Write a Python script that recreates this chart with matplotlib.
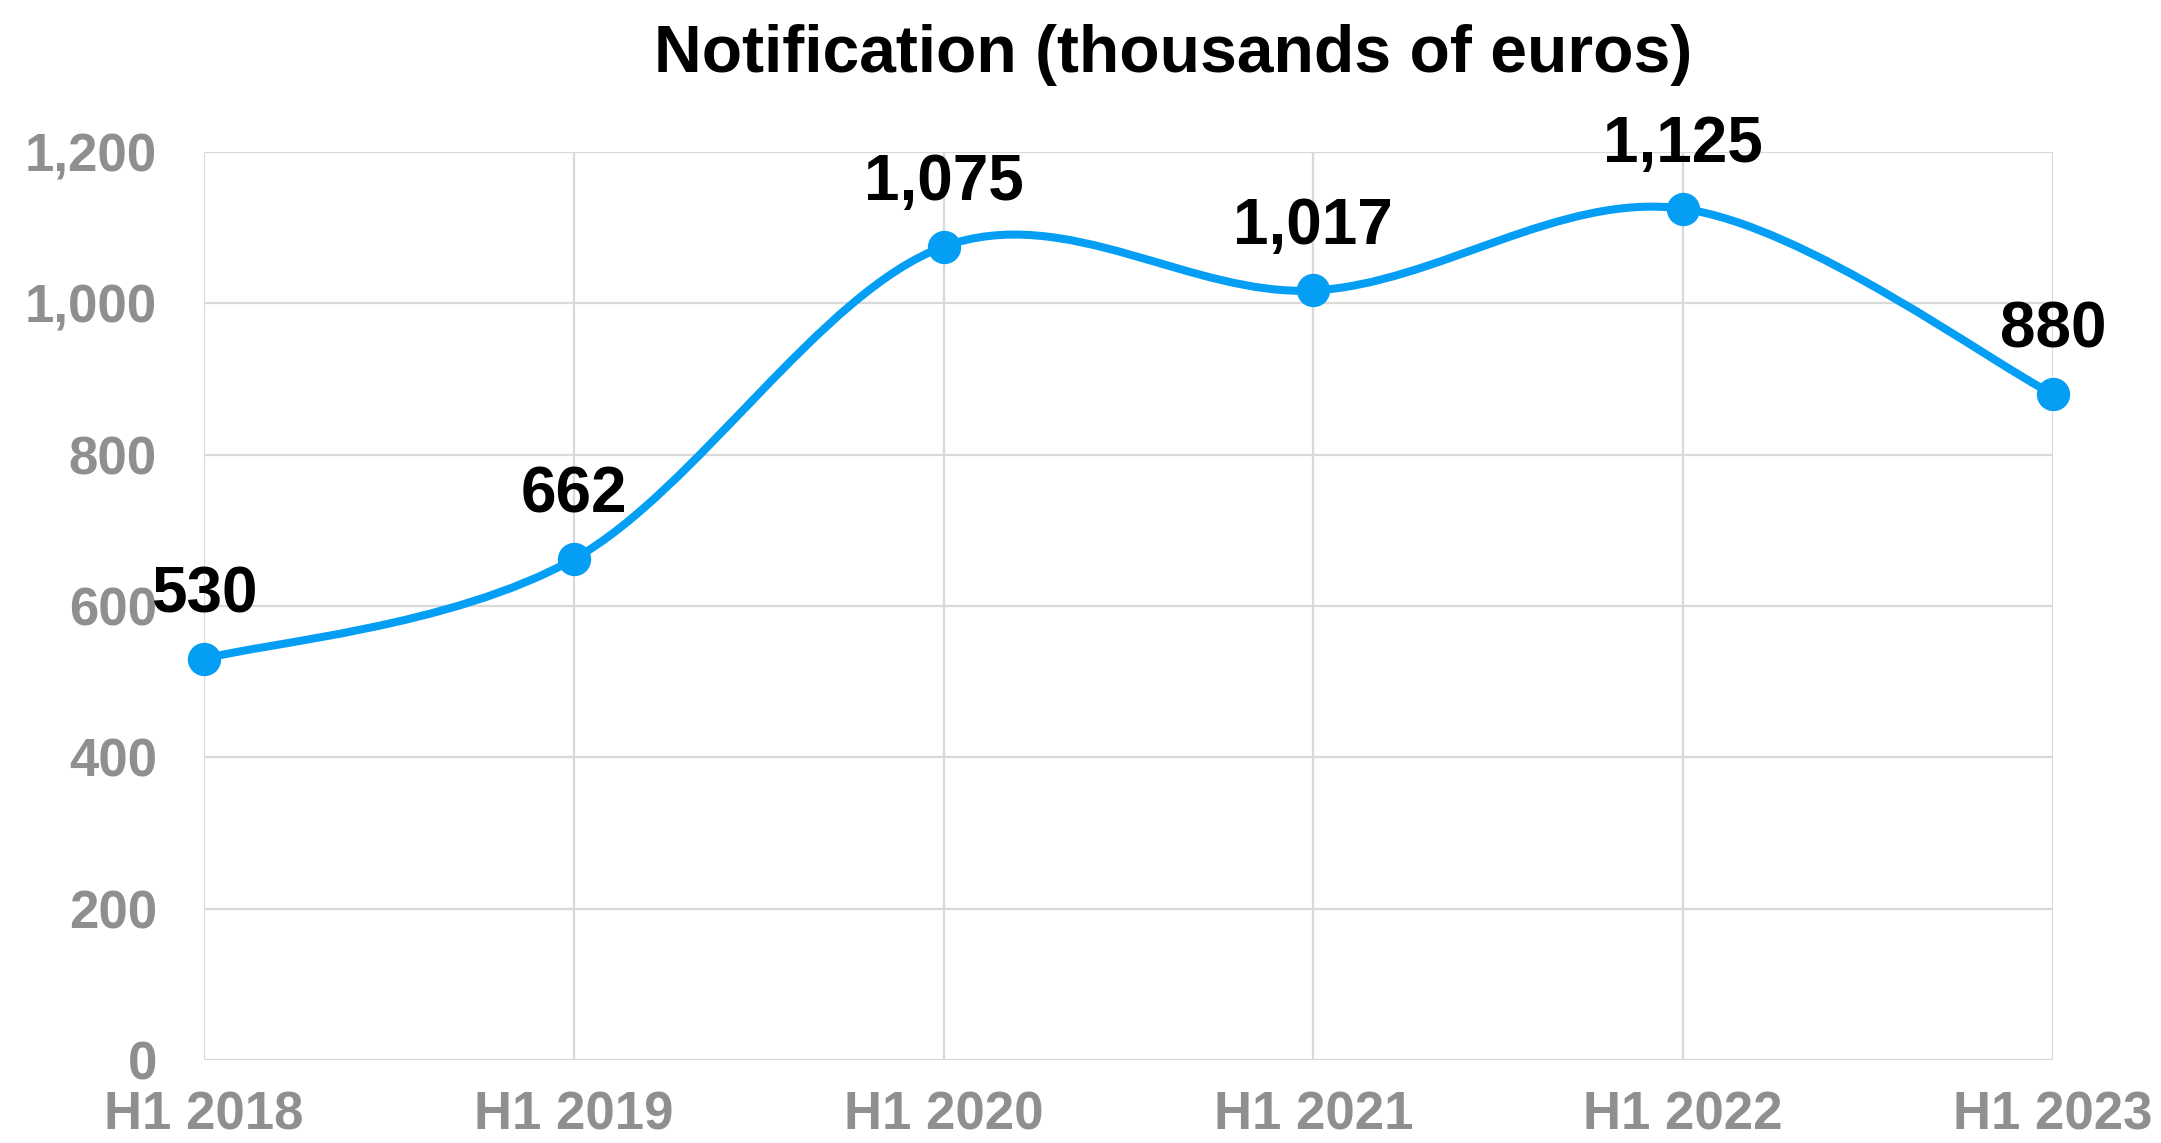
"""Line chart of notifications per first half-year, thousands of euros"""

#imports
import matplotlib
matplotlib.use("Agg")
import matplotlib.pyplot as plt
from matplotlib.path import Path
from matplotlib.patches import PathPatch


#chart data
periods = ["H1 2018", "H1 2019", "H1 2020", "H1 2021", "H1 2022", "H1 2023"]
notification = [530, 662, 1075, 1017, 1125, 880]
y_ticks = [0, 200, 400, 600, 800, 1000, 1200]

LINE_BLUE = "#049FF5"
GRID_GREY = "#D9D9D9"
TICK_GREY = "#8F8F8F"

plt.rcParams["font.family"] = ["Liberation Sans", "DejaVu Sans"]
plt.rcParams["font.weight"] = "bold"


def smooth_path(xs, ys):
    """Builds an Excel style smoothed line (cardinal bezier) through the points"""
    pts = list(zip(xs, ys))
    verts = [pts[0]]
    codes = [Path.MOVETO]
    for i in range(len(pts) - 1):
        p0 = pts[i - 1] if i > 0 else pts[i]
        p1 = pts[i]
        p2 = pts[i + 1]
        p3 = pts[i + 2] if i + 2 < len(pts) else pts[i + 1]
        c1 = (p1[0] + (p2[0] - p0[0]) / 6, p1[1] + (p2[1] - p0[1]) / 6)
        c2 = (p2[0] - (p3[0] - p1[0]) / 6, p2[1] - (p3[1] - p1[1]) / 6)
        verts += [c1, c2, p2]
        codes += [Path.CURVE4] * 3
    return Path(verts, codes)


fig = plt.figure(figsize=(21.61, 11.43), dpi=100)
ax = fig.add_axes([0.0944, 0.0726, 0.8556, 0.7944])

x_pos = list(range(len(periods)))

#smoothed line and markers
ax.add_patch(PathPatch(smooth_path(x_pos, notification), facecolor="none",
                       edgecolor=LINE_BLUE, linewidth=5.8, clip_on=False, zorder=3))
ax.plot(x_pos, notification, linestyle="none", marker="o", markersize=23,
        color=LINE_BLUE, clip_on=False, zorder=4)

#data labels
for xp, val in zip(x_pos, notification):
    ax.annotate(f"{val:,}", (xp, val), xytext=(0, 46), textcoords="offset points",
                ha="center", va="center", fontsize=46, fontweight="bold",
                color="black", zorder=5, annotation_clip=False)

ax.set_xlim(0, len(periods) - 1)
ax.set_ylim(0, 1200)
ax.set_xticks(x_pos)
ax.set_xticklabels(periods)
ax.set_yticks(y_ticks)
ax.set_yticklabels([f"{t:,}" for t in y_ticks])

ax.grid(True, color=GRID_GREY, linewidth=1.6)
ax.set_axisbelow(True)
for side in ["top", "right", "left", "bottom"]:
    ax.spines[side].set_visible(False)
ax.tick_params(axis="both", length=0, colors=TICK_GREY, labelsize=38)
ax.tick_params(axis="y", pad=34)
ax.tick_params(axis="x", pad=22)
for lab in ax.get_xticklabels() + ax.get_yticklabels():
    lab.set_fontweight("bold")

fig.text(0.543, 0.937, "Notification (thousands of euros)", ha="center",
         va="baseline", fontsize=47.5, fontweight="bold", color="black")

fig.savefig("out.png", dpi=100)
